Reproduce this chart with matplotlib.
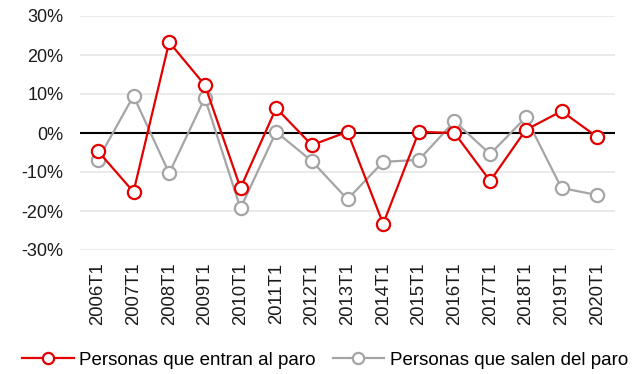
import numpy as np
import matplotlib.pyplot as plt

plt.rcParams['font.family'] = ['Liberation Sans', 'DejaVu Sans']

periodos = ['2006T1', '2007T1', '2008T1', '2009T1', '2010T1', '2011T1', '2012T1',
            '2013T1', '2014T1', '2015T1', '2016T1', '2017T1', '2018T1', '2019T1', '2020T1']
entran = [-4.6, -15.1, 23.3, 12.3, -14.1, 6.4, -3.1, 0.3, -23.3, 0.3, 0.0, -12.3, 0.8, 5.6, -1.0]
salen = [-6.9, 9.5, -10.3, 9.0, -19.3, 0.3, -7.2, -17.0, -7.4, -6.9, 3.0, -5.4, 4.0, -14.1, -15.9]
yticks = [-30, -20, -10, 0, 10, 20, 30]

fig = plt.figure(figsize=(6.32, 3.74), dpi=100)
ax = fig.add_axes([80 / 632, 1 - 250 / 374, 535 / 632, 234 / 374])

x = np.arange(len(periodos))
ax.plot(x, salen, color='#A5A5A5', lw=1.6, marker='o', ms=9.5,
        mfc='white', mec='#A5A5A5', mew=1.6, label='Personas que salen del paro', zorder=3)
ax.plot(x, entran, color='#E30000', lw=1.6, marker='o', ms=9.5,
        mfc='white', mec='#E30000', mew=1.6, label='Personas que entran al paro', zorder=4)

ax.axhline(0, color='black', lw=1.5, zorder=2)
ax.set_xlim(-0.5, len(periodos) - 0.5)
ax.set_ylim(-30, 30)
ax.set_yticks(yticks)
ax.set_yticklabels([f'{v}%' for v in yticks], fontsize=13, color='#1a1a1a')
ax.set_xticks(x)
ax.set_xticklabels(periodos, rotation=90, fontsize=13.3, color='#1a1a1a')
ax.tick_params(axis='y', length=0, pad=12)
ax.tick_params(axis='x', length=0, pad=9)
ax.grid(axis='y', color='#E6E6E6', lw=1.2, zorder=0)
for s in ax.spines.values():
    s.set_visible(False)

handles, labels = ax.get_legend_handles_labels()
fig.legend(handles[::-1], labels[::-1], loc='center', ncol=2, frameon=False,
           fontsize=13.5, bbox_to_anchor=(325 / 632, 1 - 360 / 374), handlelength=2.75,
           columnspacing=0.9, handletextpad=0.3, markerscale=0.85,
           borderaxespad=0, borderpad=0)

fig.savefig('out.png', dpi=100)
